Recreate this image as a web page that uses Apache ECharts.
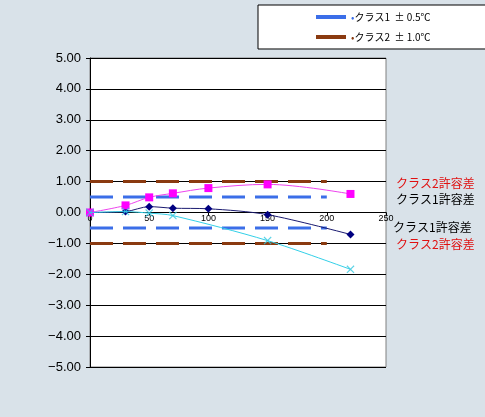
<!DOCTYPE html>
<html><head><meta charset="utf-8">
<script src="https://cdn.jsdelivr.net/npm/echarts@6/dist/echarts.min.js"></script>
<style>html,body{margin:0;padding:0;background:#d9e2e9;}#c{width:485px;height:417px;}</style>
</head><body><div id="c"></div>
<script>
const yTicks = [-5,-4,-3,-2,-1,0,1,2,3,4,5];
const xTicks = [0,50,100,150,200,250];
const magentaX = [0,30,50,70,100,150,220];
const magentaY = [0,0.23,0.49,0.62,0.79,0.91,0.60];
const navyX = [0,30,50,70,100,150,220];
const navyY = [0,0.03,0.19,0.14,0.12,-0.07,-0.71];
const cyanX = [0,30,50,70,150,220];
const cyanY = [0,0.03,-0.02,-0.10,-0.91,-1.84];
const tolX = [0,200];
const tol1 = 0.5, tol2 = 1.0;
const tolName1 = 'クラス1  ± 0.5℃', tolName2 = 'クラス2  ± 1.0℃';
const annotations = ['クラス2許容差','クラス1許容差','クラス1許容差','クラス2許容差'];

const pairs = (xs, ys) => xs.map((x,i)=>[x, ys[i]]);
const blue = '#3b6ee8', brown = '#8a3a10';
function tolSeries(name, v, color){
  return [v,-v].map(s=>({name, type:'line', data: tolX.map(x=>[x,s]), symbol:'none',
    lineStyle:{color, width:3, type:[23,10]}, itemStyle:{color}, z:3, silent:true}));
}
const chart = echarts.init(document.getElementById('c'));
const font = 'Liberation Sans, Arial, sans-serif';
const gridTop = 58, gridBottom = 50, H = 417;
const plotH = H - gridTop - gridBottom;
const zeroOffset = -plotH * (0 - yTicks[0]) / (yTicks[yTicks.length-1] - yTicks[0]);
chart.setOption({
  backgroundColor:'#d9e2e9',
  animation:false,
  textStyle:{fontFamily:font},
  grid:{left:90, right:99, top:gridTop, bottom:gridBottom, show:true, backgroundColor:'#ffffff', borderColor:'#808080', borderWidth:1},
  legend:{
    orient:'vertical', left:258, top:5, width:225, itemWidth:30, itemHeight:4, icon:'rect',
    data:[tolName1, tolName2], backgroundColor:'#ffffff', borderColor:'#000', borderWidth:1,
    padding:[7,120,7,58], itemGap:10,
    formatter: n => (n===tolName1? '{a|•}' : '{b|•}') + n,
    textStyle:{fontSize:10, color:'#000', fontFamily:'Noto Sans CJK JP, sans-serif',
      rich:{a:{color:blue, fontSize:10}, b:{color:brown, fontSize:10}}}
  },
  xAxis:{type:'value', min:xTicks[0], max:xTicks[xTicks.length-1], interval:50,
    position:'bottom', offset:zeroOffset,
    axisLine:{onZero:false, lineStyle:{color:'#000'}},
    axisTick:{show:true, inside:false, length:3, lineStyle:{color:'#000'}},
    axisLabel:{fontSize:9, color:'#000', margin:2, showMaxLabel:true},
    splitLine:{show:false}},
  yAxis:{type:'value', min:yTicks[0], max:yTicks[yTicks.length-1], interval:1,
    axisLine:{show:true, onZero:false, lineStyle:{color:'#000'}},
    axisTick:{show:true, length:4, lineStyle:{color:'#000'}},
    axisLabel:{fontSize:13, color:'#000', margin:9, formatter:v=>v.toFixed(2).replace('-','−')},
    splitLine:{show:true, lineStyle:{color:'#000', width:1}}},
  series:[
    ...tolSeries(tolName2, tol2, brown),
    ...tolSeries(tolName1, tol1, blue),
    {name:'navy', type:'line', data:pairs(navyX,navyY), smooth:0.3, symbol:'diamond', symbolSize:8,
      lineStyle:{color:'#1a1a70', width:1}, itemStyle:{color:'#000080'}, z:4},
    {name:'magenta', type:'line', data:pairs(magentaX,magentaY), smooth:0.35, symbol:'rect', symbolSize:8,
      lineStyle:{color:'#ee44ee', width:1}, itemStyle:{color:'#ff00ff'}, z:5},
    {name:'cyan', type:'line', data:pairs(cyanX,cyanY), smooth:0.3,
      symbol:'path://M0,1L1,0L5,4L9,0L10,1L6,5L10,9L9,10L5,6L1,10L0,9L4,5Z', symbolSize:8,
      lineStyle:{color:'#33d0e8', width:1}, itemStyle:{color:'#33c8e0', opacity:0.8}, z:6}
  ],
  graphic:[
    {type:'text', left:396, top:177, style:{text:annotations[0], fill:'#e01010', font:'12px "Noto Sans CJK JP"'}},
    {type:'text', left:396, top:193, style:{text:annotations[1], fill:'#000', font:'12px "Noto Sans CJK JP"'}},
    {type:'text', left:393, top:221, style:{text:annotations[2], fill:'#000', font:'12px "Noto Sans CJK JP"'}},
    {type:'text', left:396, top:238, style:{text:annotations[3], fill:'#e01010', font:'12px "Noto Sans CJK JP"'}}
  ]
});
</script></body></html>
